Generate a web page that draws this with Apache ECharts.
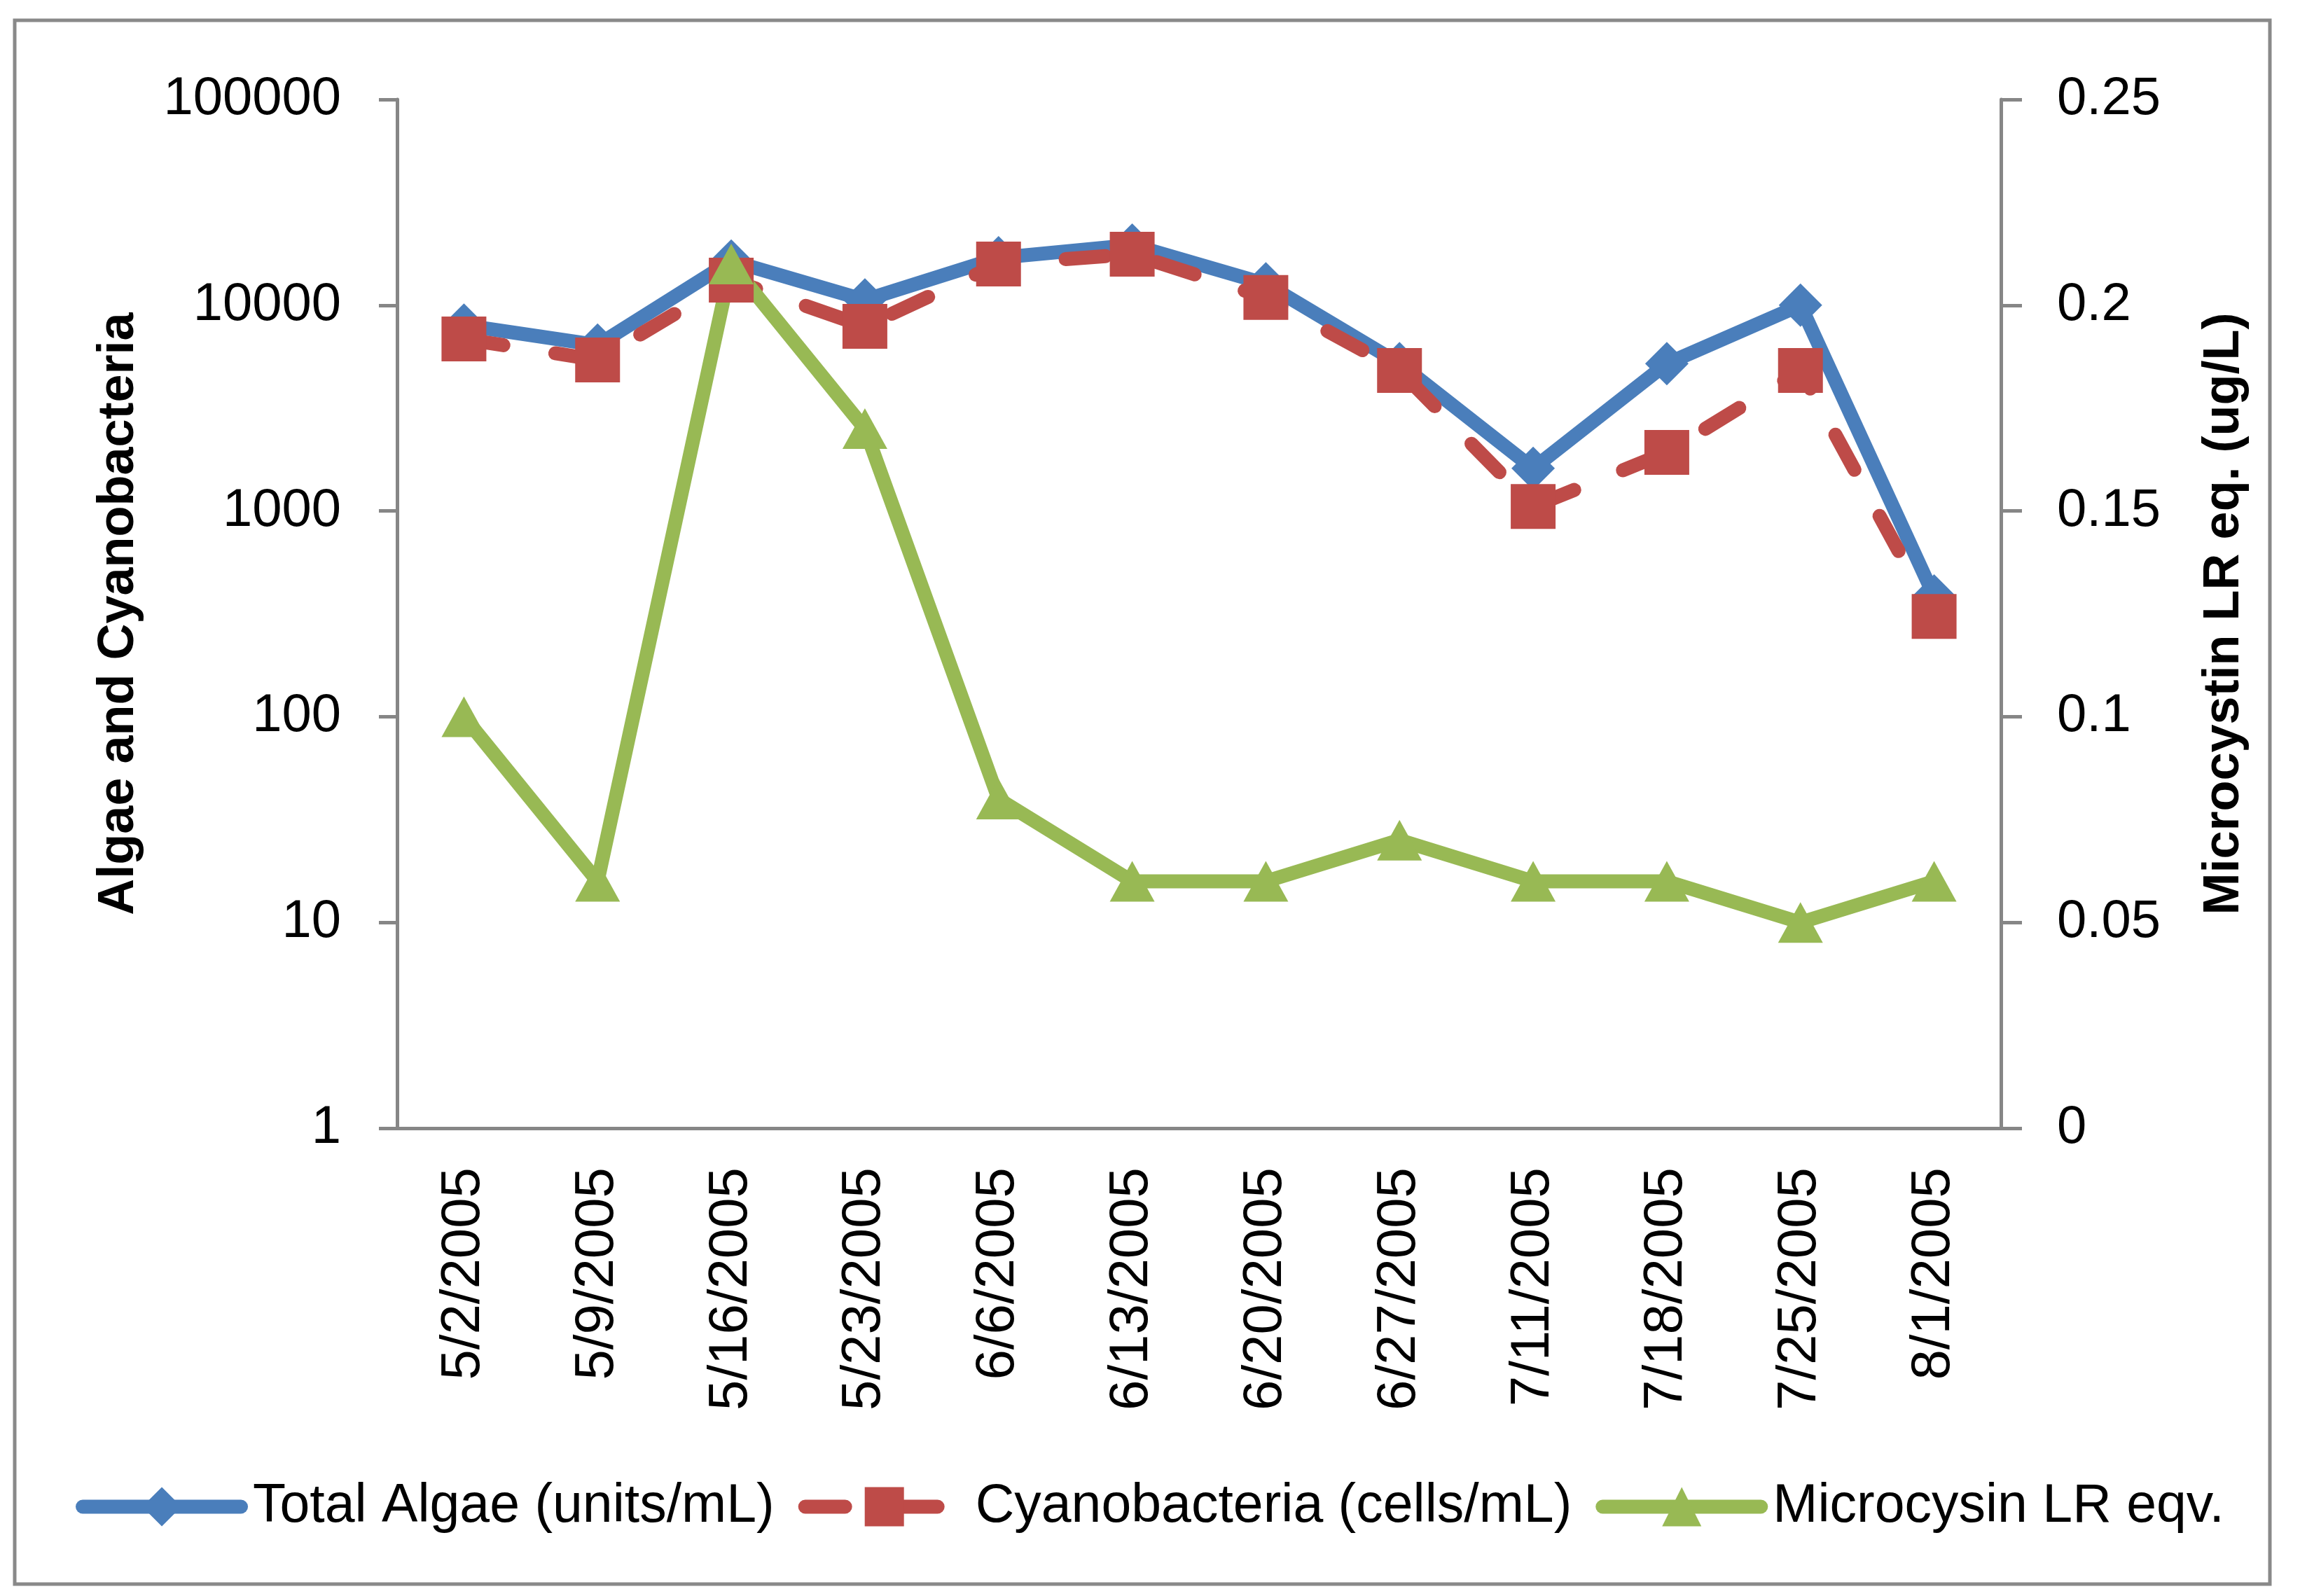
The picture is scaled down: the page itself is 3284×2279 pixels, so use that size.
<!DOCTYPE html>
<html>
<head>
<meta charset="utf-8">
<script src="https://cdn.jsdelivr.net/npm/echarts@6/dist/echarts.min.js"></script>
<style>
  html, body { margin: 0; padding: 0; background: #ffffff; }
  #chart { width: 3284px; height: 2279px; }
</style>
</head>
<body>
<div id="chart"></div>
<script>
// ---- Data ----
var categories = ['5/2/2005', '5/9/2005', '5/16/2005', '5/23/2005', '6/6/2005', '6/13/2005',
                  '6/20/2005', '6/27/2005', '7/11/2005', '7/18/2005', '7/25/2005', '8/1/2005'];
var totalAlgae = [8000, 6400, 16400, 10600, 17000, 19600, 12700, 5200, 1610, 5200, 10000, 386];
var cyanobacteria = [6850, 5420, 13240, 7890, 15850, 17700, 10900, 4820, 1050, 1925, 4820, 307];
var microcystin = [0.10, 0.06, 0.21, 0.17, 0.08, 0.06, 0.06, 0.07, 0.06, 0.06, 0.05, 0.06];
var seriesNames = ['Total Algae (units/mL)', 'Cyanobacteria (cells/mL)', 'Microcysin LR eqv.'];
var leftAxisTitle = 'Algae and Cyanobacteria';
var rightAxisTitle = 'Microcystin LR eq. (ug/L)';

var FONT = "'Liberation Sans', Arial, sans-serif";
var AXIS_GRAY = '#868686';
var BLUE = '#4A7EBB', RED = '#BE4B48', GREEN = '#98B954';

var chart = echarts.init(document.getElementById('chart'), null, { renderer: 'canvas', devicePixelRatio: 1 });

var option = {
  animation: false,
  backgroundColor: '#ffffff',
  textStyle: { fontFamily: FONT, color: '#000000' },
  graphic: [{
    type: 'rect',
    shape: { x: 21, y: 29, width: 3220, height: 2233 },
    style: { fill: 'none', stroke: '#898989', lineWidth: 5 },
    silent: true,
    z: -1
  }],
  grid: { left: 567, right: 427, top: 142, bottom: 668, containLabel: false },
  legend: {
    data: seriesNames,
    left: 'center',
    top: 2108,
    itemWidth: 226,
    itemHeight: 70,
    itemGap: 34,
    lineStyle: { width: 20 },
    textStyle: { fontFamily: FONT, fontSize: 77, color: '#000000', padding: [0, 0, 0, 12] }
  },
  xAxis: {
    type: 'category',
    data: categories,
    boundaryGap: true,
    axisLine: { show: true, lineStyle: { color: AXIS_GRAY, width: 5 } },
    axisTick: { show: false },
    splitLine: { show: false },
    axisLabel: { rotate: 90, margin: 56, fontSize: 78, fontFamily: FONT, color: '#000000', interval: 0 }
  },
  yAxis: [{
    type: 'log',
    logBase: 10,
    min: 1,
    max: 100000,
    splitNumber: 5,
    position: 'left',
    name: leftAxisTitle,
    nameLocation: 'middle',
    nameRotate: 90,
    nameGap: 361,
    nameTextStyle: { fontSize: 72, fontWeight: 'bold', fontFamily: FONT, color: '#000000' },
    axisLine: { show: true, lineStyle: { color: AXIS_GRAY, width: 5 } },
    axisTick: { show: true, length: 26, lineStyle: { color: AXIS_GRAY, width: 5 } },
    splitLine: { show: false },
    minorTick: { show: false },
    axisLabel: {
      margin: 80, fontSize: 76, fontFamily: FONT, color: '#000000',
      formatter: function (v) { return String(Math.round(v)); }
    }
  }, {
    type: 'value',
    min: 0,
    max: 0.25,
    interval: 0.05,
    position: 'right',
    name: rightAxisTitle,
    nameLocation: 'middle',
    nameRotate: 90,
    nameGap: 283,
    nameTextStyle: { fontSize: 72, fontWeight: 'bold', fontFamily: FONT, color: '#000000' },
    axisLine: { show: true, lineStyle: { color: AXIS_GRAY, width: 5 } },
    axisTick: { show: true, length: 30, lineStyle: { color: AXIS_GRAY, width: 5 } },
    splitLine: { show: false },
    axisLabel: { margin: 80, fontSize: 76, fontFamily: FONT, color: '#000000' }
  }],
  series: [{
    name: seriesNames[0],
    type: 'line',
    yAxisIndex: 0,
    data: totalAlgae,
    symbol: 'diamond',
    symbolSize: 62,
    showAllSymbol: true,
    color: BLUE,
    itemStyle: { color: BLUE },
    lineStyle: { color: BLUE, width: 20, join: 'round', cap: 'round' }
  }, {
    name: seriesNames[1],
    type: 'line',
    yAxisIndex: 0,
    data: cyanobacteria,
    symbol: 'rect',
    symbolSize: 64,
    showAllSymbol: true,
    color: RED,
    itemStyle: { color: RED },
    lineStyle: { color: RED, width: 20, type: [57, 75], cap: 'round', join: 'round' }
  }, {
    name: seriesNames[2],
    type: 'line',
    yAxisIndex: 1,
    data: microcystin,
    symbol: 'triangle',
    symbolSize: [64, 58],
    showAllSymbol: true,
    color: GREEN,
    itemStyle: { color: GREEN },
    lineStyle: { color: GREEN, width: 20, join: 'round', cap: 'round' }
  }]
};

chart.setOption(option);
</script>
</body>
</html>
